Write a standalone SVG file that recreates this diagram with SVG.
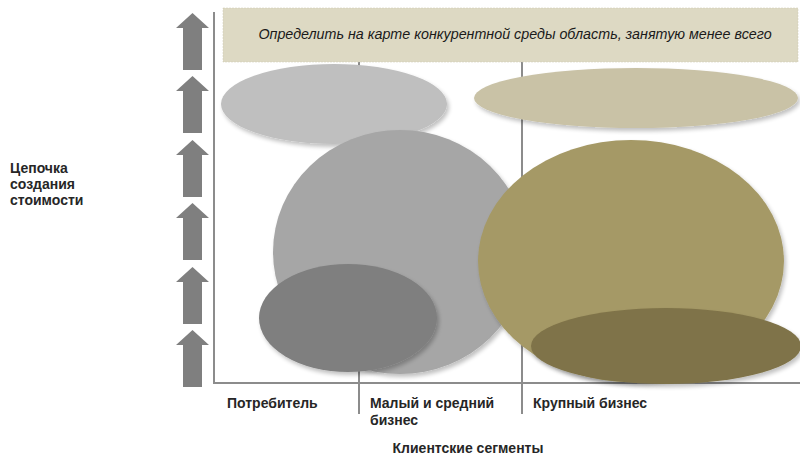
<svg xmlns="http://www.w3.org/2000/svg" width="800" height="458" viewBox="0 0 800 458">
  <style>
    .axis { stroke: #8c8c8c; stroke-width: 2; fill: none; }
    .arrow { fill: #7f7f7f; }
    .lbl { font-family: "Liberation Sans", Arial, sans-serif; font-size: 14px; font-weight: bold; fill: #262626; }
    .head { font-family: "Liberation Sans", Arial, sans-serif; font-size: 14.3px; font-style: italic; fill: #1a1a1a; }
    .blob { filter: url(#shadow); }
  </style>
  <defs>
    <filter id="shadow" x="-10%" y="-10%" width="125%" height="130%">
      <feGaussianBlur in="SourceAlpha" stdDeviation="2"/>
      <feOffset dx="2" dy="3" result="b"/>
      <feComponentTransfer><feFuncA type="linear" slope="0.25"/></feComponentTransfer>
      <feMerge><feMergeNode/><feMergeNode in="SourceGraphic"/></feMerge>
    </filter>
    <path id="up" d="M192.5,0 L209,15 L202,15 L202,57 L183,57 L183,15 L176,15 Z"/>
  </defs>

  <!-- value chain arrows -->
  <g id="arrows" class="arrow">
    <use href="#up" y="13"/>
    <use href="#up" y="76"/>
    <use href="#up" y="140"/>
    <use href="#up" y="203"/>
    <use href="#up" y="267"/>
    <use href="#up" y="330"/>
  </g>

  <!-- axes and segment dividers -->
  <g id="connectors">
    <polyline class="axis" points="214,12 214,383 800,383"/>
    <line class="axis" x1="359" y1="62" x2="359" y2="414"/>
    <line class="axis" x1="522" y1="62" x2="522" y2="414"/>
  </g>

  <!-- heading box -->
  <g id="heading">
    <rect x="223" y="8" width="575" height="54" fill="#ddd9c3" stroke="#cfcab3" stroke-width="0.5" stroke-dasharray="2,1"/>
    <text class="head" x="515" y="39" text-anchor="middle">Определить на карте конкурентной среды область, занятую менее всего</text>
  </g>

  <!-- market areas -->
  <g id="consumer-top"><ellipse class="blob" cx="334" cy="104" rx="113" ry="40" fill="#bfbfbf"/></g>
  <g id="corporate-top"><ellipse class="blob" cx="636" cy="98" rx="162" ry="30" fill="#c9c2a6"/></g>
  <g id="smb-main"><ellipse class="blob" cx="400" cy="252" rx="127" ry="122" fill="#a6a6a6"/></g>
  <g id="consumer-low"><ellipse class="blob" cx="348" cy="318" rx="89" ry="54" fill="#7f7f7f"/></g>
  <g id="corporate-main"><ellipse class="blob" cx="631" cy="261" rx="153" ry="121" fill="#a59966"/></g>
  <g id="corporate-low"><ellipse class="blob" cx="666" cy="346" rx="135" ry="38" fill="#7f7348"/></g>

  <!-- labels -->
  <g id="y-label" class="lbl">
    <text x="10" y="173">Цепочка</text>
    <text x="10" y="189">создания</text>
    <text x="10" y="205">стоимости</text>
  </g>
  <g id="segments" class="lbl">
    <text x="227" y="408">Потребитель</text>
    <text x="370" y="408">Малый и средний</text>
    <text x="370" y="425">бизнес</text>
    <text x="533" y="408">Крупный бизнес</text>
  </g>
  <g id="x-label" class="lbl">
    <text x="468" y="453" text-anchor="middle">Клиентские сегменты</text>
  </g>
</svg>
